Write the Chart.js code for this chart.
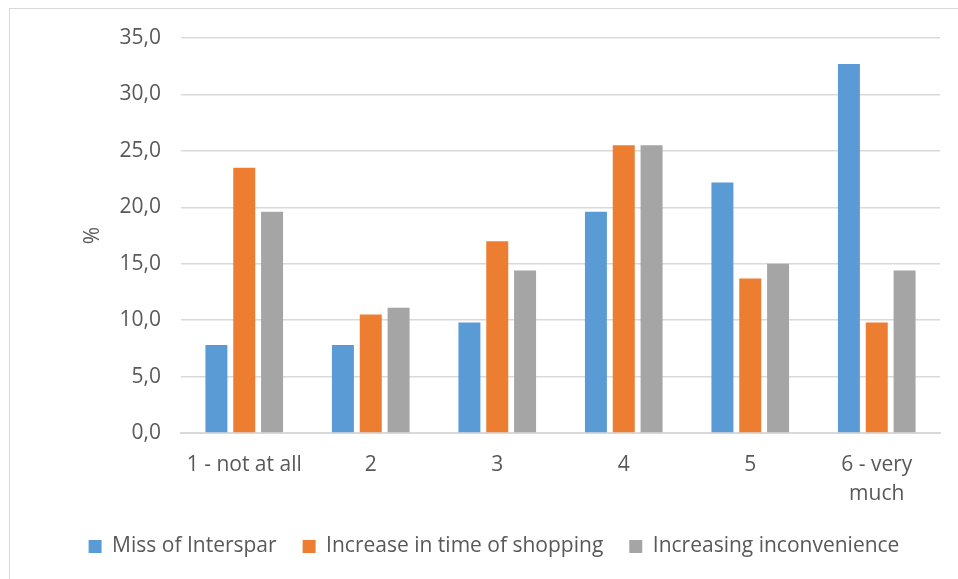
<!DOCTYPE html>
<html>
<head>
  <meta charset="UTF-8">
  <title>Reasons against closing</title>
  <script src="https://cdn.jsdelivr.net/npm/chart.js"></script>
  <style>
    body {
      margin: 0;
      background: #fff;
      font-family: "Open Sans", sans-serif;
    }

    #frame {
      position: absolute;
      left: 9px;
      top: 8px;
      width: 1000px;
      height: 700px;
      border: 1px solid #d9d9d9;
    }

    #wrap {
      position: absolute;
      left: 0;
      top: 0;
      width: 958px;
      height: 579px;
    }
  </style>
</head>
<body>
  <div id="frame"></div>
  <div id="wrap"><canvas id="chart"></canvas></div>

  <script>
    const categories = ["1 - not at all", "2", "3", "4", "5", ["6 - very", "much"]];
    const missInterspar = [7.8, 7.8, 9.8, 19.6, 22.2, 32.7];
    const shoppingTime = [23.5, 10.5, 17.0, 25.5, 13.7, 9.8];
    const inconvenience = [19.6, 11.1, 14.4, 25.5, 15.0, 14.4];
    const yTicks = [0, 5, 10, 15, 20, 25, 30, 35];

    const textColor = "#595959";
    const gridColor = "#d9d9d9";
    const fontSize = 21;

    function series(label, data, color) {
      return {
        label: label,
        data: data,
        backgroundColor: color,
        borderWidth: 0,
        barPercentage: 0.79,
        categoryPercentage: 0.66
      };
    }

    new Chart(document.getElementById("chart"), {
      type: "bar",
      data: {
        labels: categories,
        datasets: [
          series("Miss of Interspar", missInterspar, "#5b9bd5"),
          series("Increase in time of shopping", shoppingTime, "#ed7d31"),
          series("Increasing inconvenience", inconvenience, "#a5a5a5")
        ]
      },
      options: {
        responsive: true,
        maintainAspectRatio: false,
        animation: false,
        layout: {
          padding: { left: 48, right: 18, top: 38, bottom: 12 }
        },
        plugins: {
          tooltip: { enabled: false },
          legend: {
            position: "bottom",
            labels: {
              color: textColor,
              font: { family: "Open Sans", size: fontSize },
              boxWidth: 13,
              boxHeight: 13,
              padding: 26
            }
          }
        },
        scales: {
          x: {
            grid: { display: false, drawTicks: false },
            border: { color: gridColor, width: 2 },
            ticks: {
              color: textColor,
              font: { family: "Open Sans", size: fontSize, lineHeight: 1.4 },
              padding: 17,
              maxRotation: 0,
              autoSkip: false
            },
            afterFit: (axis) => { axis.height = 77; }
          },
          y: {
            min: 0,
            max: 35,
            afterBuildTicks: (axis) => {
              axis.ticks = yTicks.map(v => ({ value: v }));
            },
            grid: { color: gridColor, lineWidth: 1.5, drawTicks: false },
            border: { display: false },
            ticks: {
              color: textColor,
              font: { family: "Open Sans", size: fontSize },
              padding: 20,
              callback: (v) => v.toFixed(1).replace(".", ",")
            },
            title: {
              display: true,
              text: "%",
              color: textColor,
              font: { family: "Open Sans", size: fontSize },
              padding: { top: 32, bottom: 0 }
            },
            afterFit: (axis) => { axis.width = 133; }
          }
        }
      }
    });
  </script>
</body>
</html>
